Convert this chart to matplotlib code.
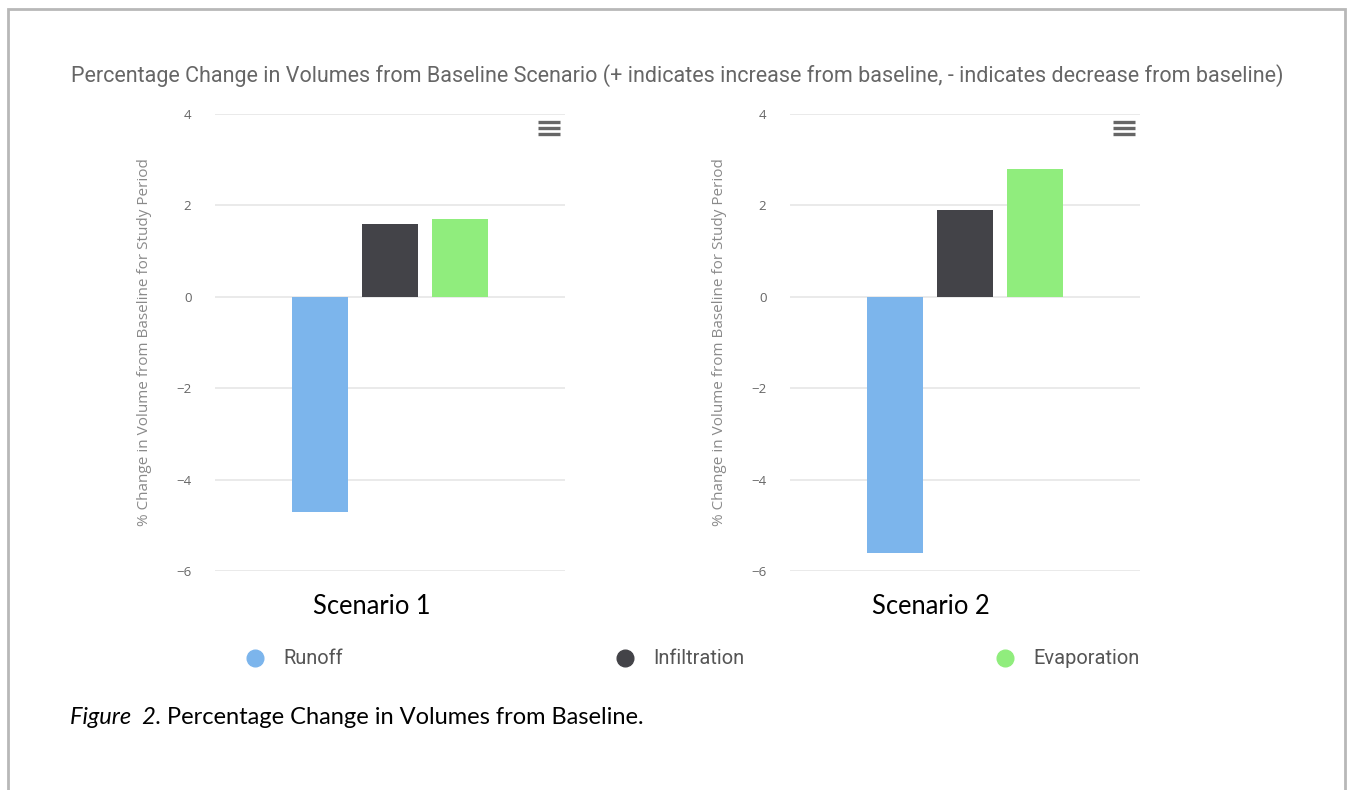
import numpy as np
import matplotlib.pyplot as plt
from matplotlib.lines import Line2D

# ======================
# Data
# ======================
scenarios = ["Scenario 1", "Scenario 2"]
series_names = ["Runoff", "Infiltration", "Evaporation"]
runoff = [-4.7, -5.6]
infiltration = [1.6, 1.9]
evaporation = [1.7, 2.8]
y_ticks = [-6, -4, -2, 0, 2, 4]

colors = ["#7cb5ec", "#434348", "#90ed7d"]
text_gray = "#666666"
grid_gray = "#e6e6e6"

W, H = 1348, 790
fig = plt.figure(figsize=(W / 100, H / 100), dpi=100)
fig.patch.set_facecolor("white")

# overlay axes in pixel coordinates for the frame and free text
bg = fig.add_axes([0, 0, 1, 1])
bg.set_xlim(0, W)
bg.set_ylim(H, 0)
bg.axis("off")

# page frame (left, top, right)
bg.plot([8, 8, 1345, 1345], [H, 9, 9, H], color="#b8b8b8", lw=2,
        solid_joinstyle="miter")

bg.text(677, 76, "Percentage Change in Volumes from Baseline Scenario "
        "(+ indicates increase from baseline, - indicates decrease from baseline)",
        ha="center", va="center", fontsize=15.5, family="Roboto", color=text_gray)

# ======================
# Two bar panels
# ======================
panel_left = [215, 790]
label_x = [0.449, 0.403]
values = np.array([runoff, infiltration, evaporation])
offsets = [-0.2, 0.0, 0.2]

for i, name in enumerate(scenarios):
    ax = fig.add_axes([panel_left[i] / W, (H - 571) / H, 350 / W, 457 / H])
    for k in range(3):
        ax.bar(offsets[k], values[k, i], width=0.16, color=colors[k],
               zorder=3, label=series_names[k])
    ax.set_xlim(-0.5, 0.5)
    ax.set_ylim(-6, 4)
    ax.set_yticks(y_ticks)
    ax.set_yticklabels([str(t).replace("-", "\u2212") for t in y_ticks],
                       family="Open Sans", fontsize=9.5, color=text_gray)
    ax.set_xticks([])
    ax.tick_params(axis="y", length=0, pad=17)
    for s in ax.spines.values():
        s.set_visible(False)
    ax.grid(axis="y", color=grid_gray, lw=1.2, zorder=0)
    ax.set_ylabel("% Change in Volume from Baseline for Study Period",
                  family="Open Sans", fontsize=11, color="#8a8a8a")
    ax.yaxis.set_label_coords(-0.18, 0.5)

    # context menu icon
    for yy in [0.982, 0.969, 0.956]:
        ax.plot([0.922, 0.985], [yy, yy], transform=ax.transAxes,
                color=text_gray, lw=2.4, solid_capstyle="butt", clip_on=False)

    ax.text(label_x[i], -0.077, name, transform=ax.transAxes, ha="center",
            va="center", fontsize=18.4, family="Lato", color="black")

# ======================
# Legend
# ======================
legend_x = [255, 625, 1005]
for k in range(3):
    h = Line2D([], [], marker="o", ls="", color=colors[k], markersize=12)
    leg = fig.legend([h], [series_names[k]], loc="center left",
                     bbox_to_anchor=((legend_x[k] - 28) / W, (H - 659) / H),
                     frameon=False, handletextpad=0.9, handlelength=1.0,
                     prop={"family": "Roboto", "size": 14.4})
    for t in leg.get_texts():
        t.set_color("#555555")

# caption
cap = bg.text(70, 718, "Figure  2.", ha="left", va="center", fontsize=17,
              family="Lato", style="italic", color="black")
bg.annotate(" Percentage Change in Volumes from Baseline.", xy=(1, 0.5),
            xycoords=cap, va="center", ha="left", fontsize=17,
            family="Lato", color="black")

plt.savefig("out.png", dpi=100)
